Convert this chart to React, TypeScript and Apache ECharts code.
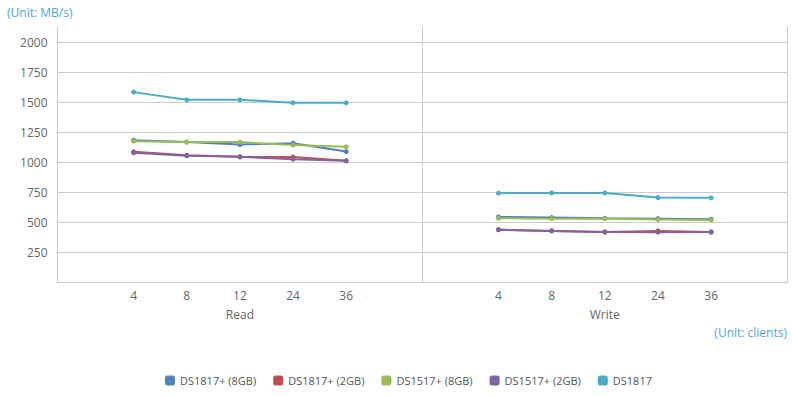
import React, { useEffect, useRef } from 'react';
import * as echarts from 'echarts';

const clients = ['4', '8', '12', '24', '36'];
const phases = ['Read', 'Write'];
const seriesNames = ['DS1817+ (8GB)', 'DS1817+ (2GB)', 'DS1517+ (8GB)', 'DS1517+ (2GB)', 'DS1817'];
const seriesColors = ['#4F81BD', '#C0504D', '#9BBB59', '#8064A2', '#4BACC6'];

// Read throughput (MB/s)
const readDS1817p8 = [1183, 1167, 1147, 1158, 1088];
const readDS1817p2 = [1086, 1058, 1044, 1042, 1011];
const readDS1517p8 = [1175, 1167, 1167, 1142, 1128];
const readDS1517p2 = [1078, 1053, 1044, 1025, 1011];
const readDS1817 = [1583, 1519, 1519, 1494, 1494];

// Write throughput (MB/s)
const writeDS1817p8 = [544, 539, 533, 530, 525];
const writeDS1817p2 = [438, 428, 419, 428, 419];
const writeDS1517p8 = [533, 530, 530, 522, 519];
const writeDS1517p2 = [438, 428, 419, 417, 419];
const writeDS1817 = [742, 744, 744, 705, 703];

const readSets = [readDS1817p8, readDS1817p2, readDS1517p8, readDS1517p2, readDS1817];
const writeSets = [writeDS1817p8, writeDS1817p2, writeDS1517p8, writeDS1517p2, writeDS1817];

const FONT = '"Open Sans", sans-serif';
const GRID_COLOR = '#cccccc';
const TEXT_COLOR = '#666666';
const UNIT_COLOR = '#4ea6dc';

export default function App() {
  const ref = useRef<HTMLDivElement>(null);

  useEffect(() => {
    document.body.style.margin = '0';
    if (!ref.current) return;
    const chart = echarts.init(ref.current, undefined, { renderer: 'svg' });

    const xAxisFor = (g: number) => ({
      type: 'value',
      gridIndex: g,
      min: -1.432,
      max: 5.432,
      axisLine: { show: true, onZero: false, lineStyle: { color: GRID_COLOR, width: 1 } },
      axisTick: { show: false },
      splitLine: { show: false },
      axisLabel: {
        customValues: clients.map((_, i) => i),
        formatter: (v: number) => clients[Math.round(v)] ?? '',
        color: TEXT_COLOR,
        fontSize: 12,
        fontFamily: FONT,
        margin: 7,
      },
      name: phases[g],
      nameLocation: 'middle',
      nameGap: 26,
      nameTextStyle: { color: TEXT_COLOR, fontSize: 12, fontFamily: FONT },
    });

    const yMain = (g: number) => ({
      type: 'value',
      gridIndex: g,
      min: 0,
      max: 2125,
      interval: 250,
      axisLine: { show: true, onZero: false, lineStyle: { color: GRID_COLOR, width: 1 } },
      axisTick: { show: false },
      axisLabel: {
        show: g === 0,
        showMinLabel: false,
        showMaxLabel: false,
        formatter: (v: number) => String(v),
        color: TEXT_COLOR,
        fontSize: 12,
        fontFamily: FONT,
        margin: 10,
      },
      splitLine: {
        show: true,
        showMinLine: false,
        showMaxLine: false,
        lineStyle: { color: GRID_COLOR, width: 1 },
      },
    });

    const series: any[] = [];
    [readSets, writeSets].forEach((sets, g) => {
      sets.forEach((vals, s) => {
        series.push({
          name: seriesNames[s],
          type: 'line',
          xAxisIndex: g,
          yAxisIndex: g,
          data: vals.map((v, i) => [i, v]),
          symbol: 'circle',
          symbolSize: 5,
          showSymbol: true,
          lineStyle: { width: 2, color: seriesColors[s] },
          itemStyle: { color: seriesColors[s] },
          color: seriesColors[s],
        });
      });
    });

    chart.setOption({
      animation: false,
      textStyle: { fontFamily: FONT },
      title: [
        {
          text: '(Unit: MB/s)',
          left: 7,
          top: 6,
          padding: 0,
          textStyle: { color: UNIT_COLOR, fontSize: 12, fontWeight: 'normal', fontFamily: FONT },
        },
        {
          text: '(Unit: clients)',
          right: 5,
          top: 326,
          padding: 0,
          textStyle: { color: UNIT_COLOR, fontSize: 12, fontWeight: 'normal', fontFamily: FONT },
        },
      ],
      legend: {
        data: seriesNames,
        left: 160,
        top: 370,
        itemWidth: 10,
        itemHeight: 10,
        itemGap: 17,
        icon: 'roundRect',
        textStyle: { color: '#555555', fontSize: 11, fontFamily: FONT },
      },
      grid: [
        { left: 57.5, top: 27, width: 364.8, height: 255.3 },
        { left: 422.3, top: 27, right: 4.7, height: 255.3 },
      ],
      xAxis: [xAxisFor(0), xAxisFor(1)],
      yAxis: [
        yMain(0),
        yMain(1),
        {
          type: 'value',
          gridIndex: 1,
          position: 'right',
          min: 0,
          max: 2125,
          axisLine: { show: true, onZero: false, lineStyle: { color: GRID_COLOR, width: 1 } },
          axisTick: { show: false },
          axisLabel: { show: false },
          splitLine: { show: false },
        },
      ],
      series,
    });

    return () => chart.dispose();
  }, []);

  return <div ref={ref} style={{ width: 792, height: 396 }} />;
}
